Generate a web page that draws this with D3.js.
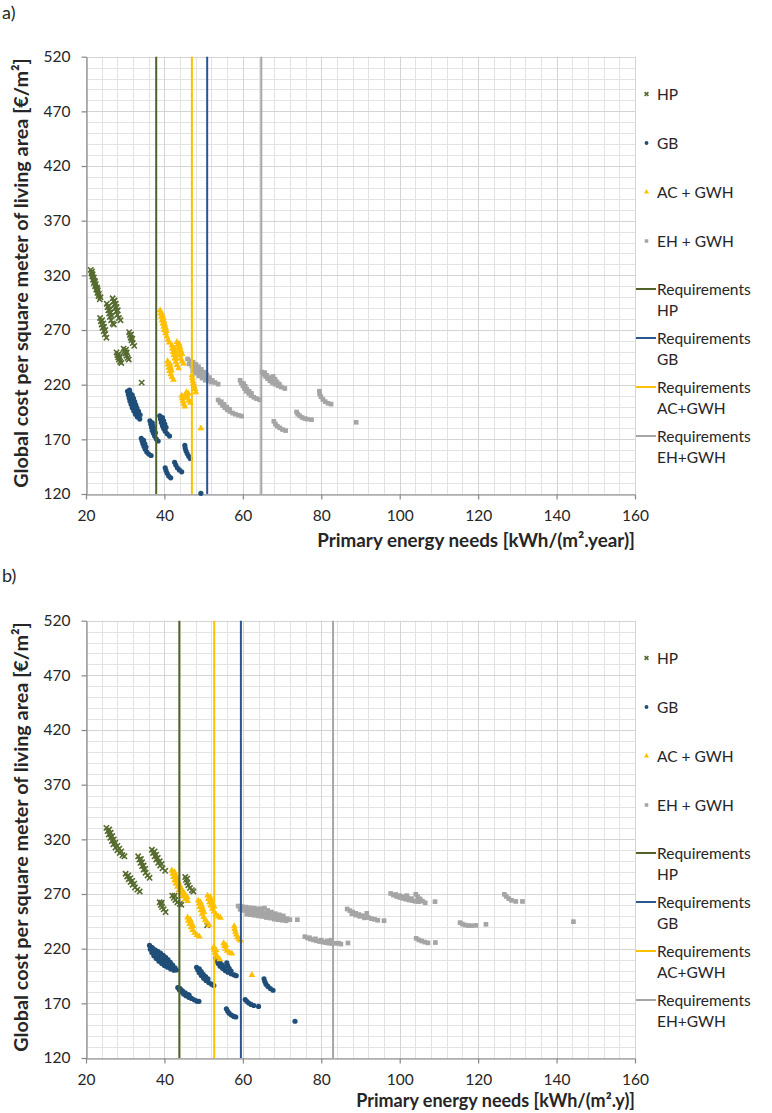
<!DOCTYPE html>
<html><head><meta charset="utf-8">
<script src="https://cdn.jsdelivr.net/npm/d3@7"></script>
<style>body{margin:0;background:#fff;} text{font-family:Lato,"Open Sans",sans-serif;}</style>
</head><body><svg id="c" width="772" height="1113"></svg>
<script>
// ---------- data ----------
const xTicks = [20,40,60,80,100,120,140,160];
const yTicks = [120,170,220,270,320,370,420,470,520];
const seriesNames = ["HP","GB","AC + GWH","EH + GWH"];
const reqNames = ["Requirements HP","Requirements GB","Requirements AC+GWH","Requirements EH+GWH"];
const reqA = [37.9, 50.9, 47.0, 64.7];
const reqB = [43.8, 59.5, 52.7, 83.0];
const panelLabels = ["a)","b)"];
const xTitles = ["Primary energy needs [kWh/(m².year)]","Primary energy needs [kWh/(m².y)]"];
const yTitle = "Global cost per square meter of living area [€/m²]";

const hpA = [
[21.2,325],[21.4,322],[21.6,319],[21.8,316],[22.0,313],[22.3,310],[22.6,307],[22.9,304],[23.2,301],[23.5,298],[21.7,321],[22.0,318],[22.2,315],[22.5,312],[22.8,309],[23.0,306],[23.3,303],[23.7,300],[21.5,323.5],[22.3,314],[22.9,307.5],
[23.6,281],[23.8,278],[24.0,275],[24.2,272],[24.5,269],[24.8,266],[25.2,263],[24.1,279],[24.4,276],[24.6,273],[24.9,270],
[25.3,294],[25.5,291],[25.7,288],[25.9,285],[26.1,282],[26.4,279],[26.8,276],[27.1,275],[25.8,292],[26.1,289],[26.3,286],[26.6,283],
[26.8,299],[27.0,296],[27.2,293],[27.4,290],[27.7,287],[28.0,284],[28.4,281],[28.8,279],[27.3,297],[27.6,294],[27.8,291],[28.1,288],
[31.0,268],[31.2,265.5],[31.4,263],[31.6,260.5],[31.9,258],[32.3,255.5],[31.5,266],[31.8,262],
[27.8,249.5],[28.0,247],[28.2,245],[28.4,243],[28.7,241],[29.0,239.8],[28.4,248],[28.6,245.5],
[29.6,253],[29.8,250.5],[30.0,248.5],[30.3,246.5],[30.6,244.5],[30.9,243],[30.2,252],[30.4,249.5],
[34.2,221.9]];
const gbA = [
[30.6,214],[30.8,211],[31.0,208],[31.2,205],[31.5,202],[31.8,199],[32.2,196],[32.6,193],[33.1,190.5],[33.7,188.5],[31.3,212],[31.5,209],[31.7,206],[32.0,203],[32.3,200],[32.6,197],[33.0,194],[33.4,191.5],[31.9,206],[32.3,201],[32.7,198],
[31.8,210.5],[32.1,207.5],[32.4,204.5],[32.7,201.5],[33.0,198.5],[33.4,195.5],[33.8,192.5],[31.0,212.5],[31.1,215],
[36.3,187],[36.5,184],[36.7,181],[36.9,178],[37.2,175.5],[37.5,173],[37.9,170.5],[38.4,168.5],[36.9,185],[37.1,182],[37.4,179],[37.7,176],
[38.8,191.5],[39.0,188.5],[39.2,185.5],[39.5,182.5],[39.8,180],[40.2,177.5],[40.7,175],[41.3,173],[39.5,190],[39.8,187],[40.1,184],[40.4,181],
[34.1,171],[34.3,168.5],[34.5,166],[34.8,163.5],[35.1,161],[35.5,158.5],[36.0,156.5],[36.6,155.2],[34.7,169],[35.0,166],[35.3,163],
[40.2,144],[40.4,141.5],[40.7,139],[41.1,136.5],[41.6,134.8],
[42.6,149],[42.9,146.5],[43.3,144],[43.8,142],[44.4,140.3],
[45.2,164.5],[45.3,162],[45.5,159.5],[45.8,157],[46.2,154.5],[46.6,152.5],
[49.3,120.6]];
const acA = [
[38.9,288],[39.0,285],[39.2,282],[39.4,279],[39.6,276],[39.8,273],[40.0,270],[40.3,267],[40.6,264],[40.9,261],[41.2,258.5],[39.5,284],[39.7,281],[39.9,278],[40.1,275],[40.3,272],[40.5,269],
[41.9,256],[42.0,253],[42.2,250],[42.4,247],[42.6,244],[42.9,241],[43.2,238],[43.6,235],[42.5,253],[42.7,250],[42.9,247],[43.1,244],
[43.2,259],[43.3,256],[43.5,253],[43.7,250],[43.9,247],[44.2,244],[44.5,241.5],[44.9,239],[43.8,257],[44.0,254],[44.2,251],[44.5,248],
[40.8,241.5],[40.9,238.5],[41.1,235.5],[41.3,232.5],[41.6,229.5],[41.9,227],[42.3,224.5],[41.4,239],[41.6,236],[41.8,233],
[44.4,210],[44.5,207.5],[44.7,205],[44.9,202.5],[45.2,200],[45.0,208.5],
[45.6,213],[45.7,210.5],[45.9,208],[46.2,205.5],[46.6,203.5],[46.1,212],
[47.0,228.5],[47.1,226],[47.2,223.5],[47.4,221],[47.6,218.5],[47.8,216],[48.0,213],
[49.3,180]];
const ehA = [
[45.9,243.5],[46.6,242],[47.3,240.5],[48.0,238.5],[48.7,236.5],[49.4,234],[50.1,231.5],[50.8,229],[51.5,226.5],[52.2,224],[52.9,222],[53.7,220.5],
[46.3,239],[47.0,237],[47.7,235],[48.4,233],[49.1,231],[49.8,228.5],[50.5,226],[51.2,224],[51.9,222.3],
[47.2,233],[48.0,230.5],[48.8,228],[49.6,226],[50.4,224],
[53.7,206],[54.2,203.5],[54.8,201],[55.4,199],[56.0,197],[56.7,195.5],[57.4,194],[58.1,193],[58.9,192],[59.7,191.2],[54.5,204.5],[55.2,202],[55.9,199.5],[56.6,197.5],
[59.3,224],[59.6,221.5],[60.0,219],[60.4,216.5],[60.9,214],[61.5,212],[62.1,210],[62.8,208.5],[63.5,207.2],[64.3,206.2],[60.2,221],[60.6,218.5],[61.0,216],[61.6,214],[62.2,212],
[64.9,231.5],[65.3,229.5],[65.8,227.5],[66.3,225.5],[66.9,223.5],[67.5,222],[68.2,220.5],[69.0,219],[69.8,217.8],[70.7,216.5],[65.6,231],[66.1,228.5],[66.6,226.5],[67.2,225],[67.7,227.5],[68.2,225],[68.7,222.5],[69.3,220.5],
[67.9,186.5],[68.3,184],[68.8,182],[69.4,180.5],[70.1,179],[70.9,178],
[73.7,195],[74.0,193],[74.5,191.5],[75.1,190],[75.8,189],[76.4,188.5],[77.5,188],
[79.5,214],[79.6,211.5],[79.9,209],[80.4,206.5],[81.0,204.5],[81.7,203],[82.5,202.2],
[88.9,185.6]];

const hpB = [
[25.2,330.5],[25.5,327.5],[25.8,324.5],[26.2,321.5],[26.6,318.5],[27.0,315.5],[27.5,312.5],[28.0,310],[28.6,307.5],[29.3,305.5],[29.8,304.5],[25.9,329],[26.3,326],[26.7,323],[27.1,320],[27.5,317],[28.0,314],[28.5,311.5],[29.0,309],
[30.1,288.5],[30.5,286],[30.9,283.5],[31.4,281],[31.9,278.5],[32.5,276],[33.1,274],[33.7,272.3],[30.8,287],[31.3,284.5],[31.8,282],[32.3,279.5],
[33.3,304.5],[33.6,301.5],[33.9,298.5],[34.3,295.5],[34.7,292.5],[35.2,289.5],[35.7,287],[36.2,284.8],[34.0,302],[34.3,299],[34.7,296],[35.1,293],
[36.8,310.5],[37.1,307.5],[37.5,304.5],[37.9,301.5],[38.4,298.5],[38.9,296],[39.5,293.5],[40.2,291.2],[37.5,309],[37.9,306],[38.3,303],[38.8,300],[39.3,297.5],
[38.8,262.5],[39.1,260],[39.4,258],[39.8,256],[40.3,253.5],[39.3,262],
[42.0,268.5],[42.4,266.5],[42.8,264.5],[43.3,262.5],[43.9,261],[44.3,260.2],[42.6,268.5],
[45.3,285.5],[45.5,283],[45.8,280.5],[46.1,278],[46.5,275.5],[47.0,273.5],[47.4,272.3],[45.8,284],
[50.9,241.4]];
const gbB = [
[36.2,223],[36.9,221],[37.6,219],[38.3,217.5],[39.0,216],[39.7,214],[40.3,212],[40.9,210],[41.5,207.5],[42.1,205],[42.7,202.5],[43.1,200.5],
[36.4,219.5],[36.8,216.5],[37.3,213.5],[37.9,211],[38.6,208.5],[39.3,206.5],[40.0,204.5],[40.8,203],[41.6,201.5],[42.4,200.3],
[37.2,218],[37.9,215],[38.7,212.5],[39.5,210],[40.3,208],[41.1,206],[41.8,204],
[48.2,203],[48.5,200.5],[48.9,198],[49.4,195.5],[50.0,193],[50.6,191],[51.3,189],[52.0,187.5],[52.6,186.3],[48.9,201.5],[49.4,199],[49.9,196.5],[50.5,194.5],[51.1,192.5],
[53.0,211.5],[53.3,209],[53.7,206.5],[54.2,204],[54.8,202],[55.5,200],[56.2,198.5],[57.0,197],[57.8,196],[58.3,195.3],[53.6,210.5],[54.1,208],[54.6,205.5],[55.3,203.5],[55.9,207],[56.1,204.5],[56.5,202],[57.0,199.5],
[43.4,184.5],[43.8,182.5],[44.3,180.5],[44.9,178.5],[45.5,177],[46.2,175.5],[46.9,174.5],[47.6,173.2],[48.3,172],[48.8,171.8],[44.0,183.5],[44.6,181.5],[45.3,179.5],[46.0,178],[46.3,177.5],
[55.8,165],[56.1,163],[56.5,161],[57.1,159.2],[57.7,158],[58.2,157.5],
[60.6,173.5],[61.0,171.8],[61.5,170.3],[62.1,169],[62.8,168],[64.0,167.2],
[65.4,192.5],[65.6,190],[65.9,187.5],[66.4,185.5],[67.0,183.5],[67.7,182],
[73.3,153.6]];
const acB = [
[41.9,291.5],[42.1,288.5],[42.3,285.5],[42.6,282.5],[42.9,279.5],[43.3,276.5],[43.7,273.5],[44.2,270.5],[44.7,268],[45.3,265.5],[45.9,263.5],
[42.6,290],[42.9,287],[43.2,284],[43.5,281],[43.9,278],[44.3,275],[44.8,272],[45.3,269.5],[45.8,267],
[48.6,264],[48.8,261],[49.0,258],[49.3,255],[49.6,252],[50.0,249],[50.4,246.5],[50.9,244],[51.4,241.5],[49.2,262.5],[49.5,259.5],[49.8,256.5],[50.1,253.5],
[51.0,268.5],[51.2,265.5],[51.5,262.5],[51.8,259.5],[52.2,256.5],[52.6,254],[53.1,251.5],[53.7,249.5],[54.3,248.3],[51.7,267],[52.0,264],[52.3,261],[52.7,258.5],
[45.9,248.5],[46.1,245.5],[46.4,242.5],[46.8,239.5],[47.2,237],[47.7,234.5],[48.3,232.5],[48.9,231],[46.6,246.5],[46.9,243.5],[47.3,240.5],
[52.6,221.5],[52.7,219],[52.9,216.5],[53.2,214],[53.6,212],[54.1,210.2],[53.2,218.5],
[55.1,225],[55.3,222.5],[55.6,220],[56.0,218],[56.6,216.3],[57.2,215.5],[55.7,223],
[57.8,240.5],[57.9,238],[58.1,235.5],[58.3,233],[58.6,230.5],[59.0,228.5],[59.4,227.5],
[62.3,195.9]];
const ehB = [
[58.8,259],[59.8,258.5],[60.8,258],[61.8,257.5],[62.8,257],[63.8,256.5],[64.8,256.5],[65.5,257],[66.3,255],[67.3,253.5],[68.3,252],[69.3,251],[70.3,250],
[59.3,256],[60.3,255],[61.3,254.5],[62.3,254],[63.3,253.5],[64.3,253],[65.3,252.5],[66.3,252],[67.3,251],[68.3,250],[69.3,249],[70.3,248],[71.3,247.5],
[61.0,251.5],[62.0,251],[63.0,250.5],[64.0,250],[65.0,249.5],[66.0,248.5],[67.0,248],[68.0,247],[69.0,246.5],[70.0,246],[71.0,245.5],[72.0,246.5],[73.9,246.5],
[75.8,231],[76.5,229.8],[77.2,228.8],[78.0,228],[78.8,227.2],[79.6,226.5],[80.4,226],[81.2,225.5],[82.0,225],[82.8,224.7],[83.6,225],[84.4,225],[85.0,224.2],[86.8,225.2],[77.0,230],[78.5,229],[80.0,227.8],[81.5,227],[82.5,227.8],
[86.6,256.3],[87.3,254.8],[88.0,253.5],[88.8,252.3],[89.6,251.2],[90.4,250.2],[91.2,249.3],[92.0,248.5],[92.8,247.5],[93.6,246.8],[94.4,246],[96.0,245.6],[87.8,252],[88.8,250.7],[89.8,249.6],[91.0,248.2],[91.6,252.3],
[97.7,270.5],[98.4,269],[99.2,267.8],[100.0,266.8],[100.8,266],[101.6,265.2],[102.4,264.5],[103.2,264],[104.0,263.3],[104.8,263],[99.0,269.5],[100.0,268.5],[101.0,267.5],[102.0,266.5],[103.0,265.8],[101.8,268.5],[104.1,269.7],[104.6,267.5],[105.2,265.5],[105.8,263.5],[106.5,262],[109.0,263],
[104.2,229.5],[104.9,228],[105.6,227],[106.4,226],[107.2,225.3],[109.1,225.6],
[115.4,243.8],[116.0,242.5],[116.7,241.6],[117.5,241.1],[118.3,241],[119.4,241.3],[122.0,242.3],
[126.7,269.7],[127.2,267.8],[127.8,265.8],[128.5,264.2],[129.6,263.2],[131.3,263.2],
[144.3,244.7]];

// ---------- styles ----------
const colHP="#556b2f", colGB="#1f4e79", colAC="#ffc000", colEH="#a5a5a5";
const reqCols=["#4f6228","#2a5590","#ffc000","#a6a6a6"];
const txt="#262626";

const svg=d3.select("#c");
const x=d3.scaleLinear().domain([20,160]).range([86,635]);
const y=d3.scaleLinear().domain([120,520]).range([494,56.7]);

function fit(sel,w){const L=sel.node().getComputedTextLength();const fs=parseFloat(sel.attr("font-size"));sel.attr("font-size",fs*w/L);}

function marker(g,type,col,px,py,small){
  const s = small?0.75:1;
  if(type==="x"){
    g.append("path").attr("d",d3.symbol(d3.symbolTimes,20*s*s)()).attr("transform",`translate(${px},${py})`)
      .attr("stroke",col).attr("stroke-width",1.6).attr("fill","none");
  } else if(type==="c"){
    g.append("path").attr("d",d3.symbol(d3.symbolCircle,21*s*s)()).attr("transform",`translate(${px},${py})`).attr("fill",col);
  } else if(type==="t"){
    g.append("path").attr("d",d3.symbol(d3.symbolTriangle,20*s*s)()).attr("transform",`translate(${px},${py})`).attr("fill",col);
  } else {
    g.append("path").attr("d",d3.symbol(d3.symbolSquare,22*s*s)()).attr("transform",`translate(${px},${py})`).attr("fill",col);
  }
}

function panel(idx, off, hp, gb, ac, eh, req){
  const g=svg.append("g").attr("transform",`translate(0,${off})`);
  const minorX=d3.range(20,161,4), minorY=d3.range(120,521,10);
  g.append("g").selectAll("line").data(minorX).join("line")
    .attr("x1",d=>Math.round(x(d))+0.5).attr("x2",d=>Math.round(x(d))+0.5).attr("y1",y(520)).attr("y2",y(120))
    .attr("stroke","#e3e3e3").attr("stroke-width",1);
  g.append("g").selectAll("line").data(minorY).join("line")
    .attr("y1",d=>Math.round(y(d))+0.5).attr("y2",d=>Math.round(y(d))+0.5).attr("x1",x(20)).attr("x2",x(160))
    .attr("stroke","#e3e3e3").attr("stroke-width",1);
  g.append("g").selectAll("line").data(xTicks).join("line")
    .attr("x1",d=>Math.round(x(d))+0.5).attr("x2",d=>Math.round(x(d))+0.5).attr("y1",y(520)).attr("y2",y(120))
    .attr("stroke","#d4d4d4").attr("stroke-width",1);
  g.append("g").selectAll("line").data(yTicks).join("line")
    .attr("y1",d=>Math.round(y(d))+0.5).attr("y2",d=>Math.round(y(d))+0.5).attr("x1",x(20)).attr("x2",x(160))
    .attr("stroke","#d4d4d4").attr("stroke-width",1);

  const xa=g.append("g").attr("transform",`translate(0,${Math.round(y(120))+0.5})`)
    .call(d3.axisBottom(x).tickValues(xTicks).tickSize(5).tickPadding(10).tickSizeOuter(0));
  const ya=g.append("g").attr("transform",`translate(${Math.round(x(20))+0.5},0)`)
    .call(d3.axisLeft(y).tickValues(yTicks).tickSize(5).tickPadding(11).tickSizeOuter(0));
  [xa,ya].forEach(a=>{a.selectAll("path,line").attr("stroke","#868686").attr("stroke-width",1.2);
    a.selectAll("text").attr("font-size",15.5).attr("fill",txt).attr("font-family","Lato");});

  const pts=g.append("g");
  hp.forEach(d=>marker(pts,"x",colHP,x(d[0]),y(d[1])));
  gb.forEach(d=>marker(pts,"c",colGB,x(d[0]),y(d[1])));
  ac.forEach(d=>marker(pts,"t",colAC,x(d[0]),y(d[1])));
  eh.forEach(d=>marker(pts,"s",colEH,x(d[0]),y(d[1])));

  g.append("g").selectAll("line").data(req).join("line")
    .attr("x1",d=>x(d)).attr("x2",d=>x(d)).attr("y1",y(120)).attr("y2",y(520))
    .attr("stroke",(d,i)=>reqCols[i]).attr("stroke-width",2);

  g.append("text").text(panelLabels[idx]).attr("x",2).attr("y",idx===0?19:18).attr("font-size",18).attr("fill",txt);
  const xt=g.append("text").text(xTitles[idx]).attr("x",635).attr("y",idx===0?547:543).attr("text-anchor","end")
    .attr("font-weight","bold").attr("font-size",16).attr("fill",txt);
  fit(xt, idx===0?318:279);
  const yt=g.append("text").text(yTitle).attr("transform",`translate(28,273) rotate(-90)`).attr("text-anchor","middle")
    .attr("font-weight","bold").attr("font-size",16).attr("fill",txt);
  fit(yt,430);

  const lg=g.append("g");
  const types=["x","c","t","s"], cols=[colHP,colGB,colAC,colEH];
  const ly=[94,143,192,241];
  seriesNames.forEach((n,i)=>{
    marker(lg,types[i],cols[i],646.5,ly[i],true);
    lg.append("text").text(n).attr("x",657).attr("y",ly[i]+5.5).attr("font-size",15.5).attr("fill",txt);
  });
  const ry=[289,338,387,436];
  reqNames.forEach((n,i)=>{
    lg.append("line").attr("x1",636).attr("x2",656).attr("y1",ry[i]).attr("y2",ry[i]).attr("stroke",reqCols[i]).attr("stroke-width",2);
    const parts=n.split(" ");
    lg.append("text").text(parts[0]).attr("x",657).attr("y",ry[i]+5.5).attr("font-size",15.5).attr("fill",txt);
    lg.append("text").text(parts.slice(1).join(" ")).attr("x",657).attr("y",ry[i]+26.5).attr("font-size",15.5).attr("fill",txt);
  });
}

panel(0,0,hpA,gbA,acA,ehA,reqA);
panel(1,564,hpB,gbB,acB,ehB,reqB);
</script></body></html>
